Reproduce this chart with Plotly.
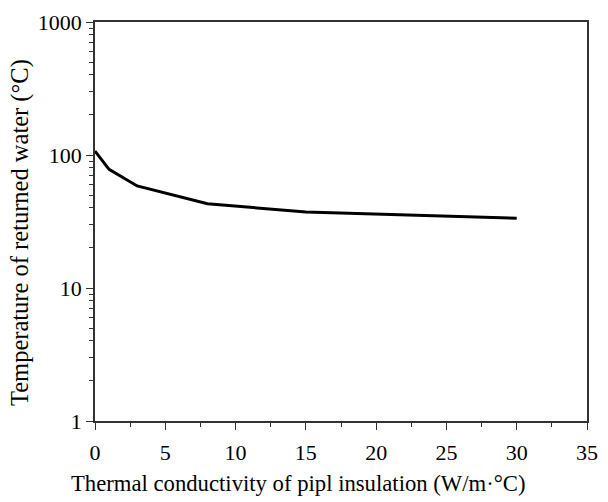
import plotly.graph_objects as go

conductivity = [0, 1, 3, 8, 15, 30]
temperature = [107, 78, 58.5, 43, 37.3, 33.5]

y_tick_vals = [1, 10, 100, 1000]
y_tick_text = ["1", "10", "100", "1000"]
y_minor_vals = [m * d for d in (1, 10, 100) for m in range(2, 10)]

x_title = "Thermal conductivity of pipl insulation (W/m·°C)"
y_title = "Temperature of returned water (°C)"

fig = go.Figure()
fig.add_trace(go.Scatter(
    x=conductivity, y=temperature, mode="lines",
    line=dict(color="black", width=3), showlegend=False,
))

fam = "Liberation Serif, Times New Roman, serif"
tick_font = dict(family=fam, size=22, color="black")

L, R, T, B = 95, 10, 17, 81
W, H = 608, 502
pw, ph = W - L - R, H - T - B

fig.update_layout(
    width=W, height=H,
    margin=dict(l=L, r=R, t=T, b=B),
    paper_bgcolor="white", plot_bgcolor="white",
    font=tick_font,
)
fig.add_annotation(
    text=x_title, xref="paper", yref="paper",
    x=(303 - L) / pw, y=(H - B - 484) / ph, xanchor="center", yanchor="middle",
    showarrow=False, font=dict(family=fam, size=22.7, color="black"),
)
fig.add_annotation(
    text=y_title, xref="paper", yref="paper", textangle=-90,
    x=(19 - L) / pw, y=(H - B - 230) / ph, xanchor="center", yanchor="middle",
    showarrow=False, font=dict(family=fam, size=24.5, color="black"),
)
fig.update_xaxes(
    range=[0, 35], tickmode="linear", tick0=0, dtick=5,
    ticks="outside", ticklen=7, tickwidth=1.2, tickcolor="#333",
    minor=dict(ticks="outside", ticklen=4, tickcolor="#333", tickwidth=1.2, dtick=2.5, showgrid=False),
    showline=True, linecolor="#333", linewidth=1.5, mirror=True,
    showgrid=False, zeroline=False,
    tickfont=tick_font, ticklabelstandoff=4,
)
fig.update_yaxes(
    type="log", range=[0, 3],
    tickmode="array", tickvals=y_tick_vals, ticktext=y_tick_text,
    ticks="outside", ticklen=7, tickwidth=1.2, tickcolor="#333",
    minor=dict(ticks="outside", ticklen=4, tickcolor="#333", tickwidth=1.2,
               tickmode="array", tickvals=y_minor_vals, showgrid=False),
    showline=True, linecolor="#333", linewidth=1.5, mirror=True,
    showgrid=False, zeroline=False,
    tickfont=tick_font,
)

fig.write_html("out.html")
